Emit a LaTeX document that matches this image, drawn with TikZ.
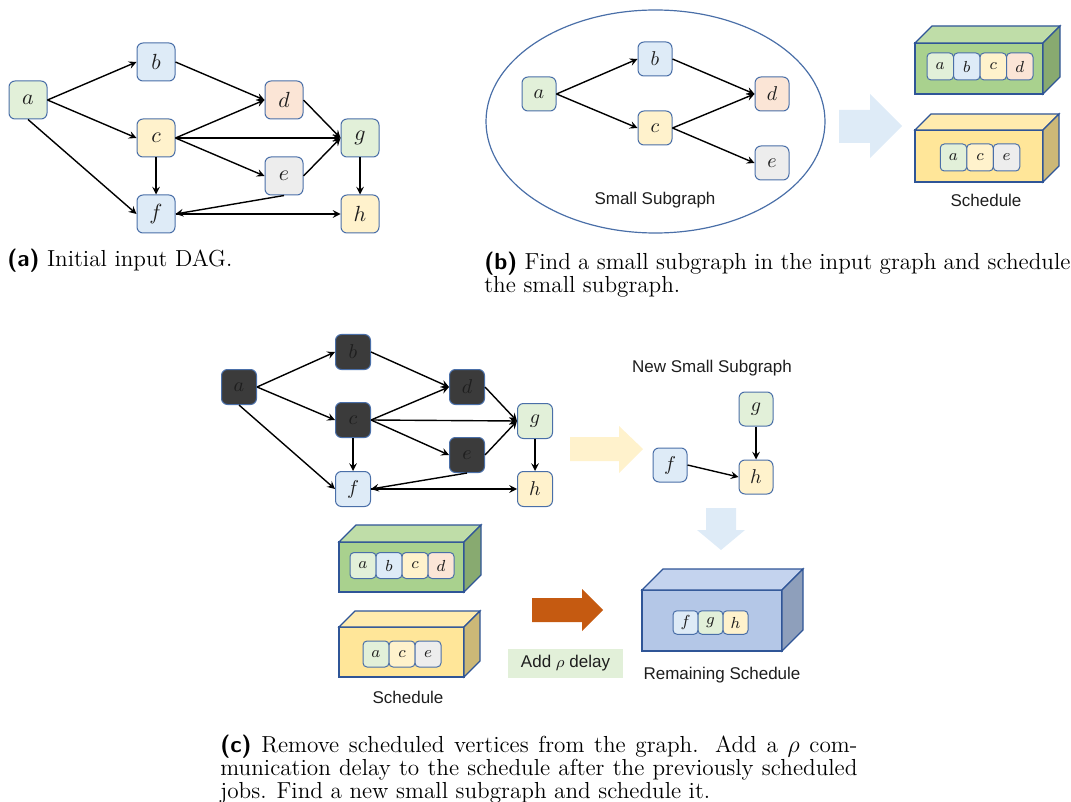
\documentclass[tikz,border=0pt]{standalone}
\usepackage{fontspec}
\newfontfamily\labelfont{Liberation Sans}
\usetikzlibrary{positioning}
\definecolor{vline}{HTML}{4A6FA8}
\definecolor{boxline}{HTML}{2F5597}
\definecolor{vgreen}{HTML}{E2F0D9}
\definecolor{vblue}{HTML}{DEEBF7}
\definecolor{vyellow}{HTML}{FFF2CC}
\definecolor{vred}{HTML}{FBE5D6}
\definecolor{vgray}{HTML}{EDEDED}
\definecolor{vdark}{HTML}{3B3B3B}
\definecolor{gfront}{HTML}{A9D18E}
\definecolor{gtop}{HTML}{BFDDA8}
\definecolor{gside}{HTML}{88AA70}
\definecolor{yfront}{HTML}{FFE699}
\definecolor{ytop}{HTML}{FFEBAE}
\definecolor{yside}{HTML}{CCB877}
\definecolor{bfront}{HTML}{B4C7E7}
\definecolor{btop}{HTML}{C4D3EE}
\definecolor{bside}{HTML}{8E9FBB}
\definecolor{arrblue}{HTML}{DEEBF7}
\definecolor{arryellow}{HTML}{FFF2CC}
\definecolor{arrorange}{HTML}{C55A11}
\definecolor{txt}{HTML}{1E1E1E}
\tikzset{
  vtx/.style={draw=vline, line width=0.5pt, rounded corners=3pt, minimum size=17.5pt, inner sep=0pt, text=txt, font=\fontsize{10}{11}\selectfont},
  cell/.style={draw=vline, line width=0.5pt, rounded corners=2pt, minimum width=13pt, minimum height=13pt, inner sep=0pt, text=txt, font=\fontsize{8.5}{9}\selectfont},
  edge/.style={->, line width=0.7pt},
  lbl/.style={text=txt, font=\labelfont\fontsize{8.5}{10}\selectfont},
  captext/.style={inner sep=0pt, font=\fontsize{11.6}{11.5}\selectfont},
}
% front face at (#1,#2), size #3 x #4, depth #5; fills #6 front, #7 top, #8 side
\newcommand{\cuboid}[8]{%
  \filldraw[draw=boxline, line width=0.6pt, fill=#6] (#1,#2) rectangle ++(#3,#4);
  \filldraw[draw=boxline, line width=0.6pt, fill=#7] (#1,#2) -- ++(#5,-#5) -- ++(#3,0) -- ++(-#5,#5) -- cycle;
  \filldraw[draw=boxline, line width=0.6pt, fill=#8] (#1+#3,#2) -- ++(#5,-#5) -- ++(0,#4) -- ++(-#5,#5) -- cycle;
}
\begin{document}
\begin{tikzpicture}[x=0.5pt,y=-0.5pt,>=stealth]
  \useasboundingbox (0,0) rectangle (1071,802);
  %\draw[gray!30] (0,0) grid[step=50] (1071,802);

  % (a) input DAG
  \foreach \n/\x/\y/\c in {a/28/100/vgreen, b/156/62/vblue, c/156/138/vyellow, d/284/100/vred,
      e/284/176/vgray, f/156/214/vblue, g/360/138/vgreen, h/360/214/vyellow}
    \node[vtx, minimum size=19pt, font=\fontsize{11}{12}\selectfont, fill=\c] (A\n) at (\x,\y) {$\n$};
  \foreach \s/\t in {a.east/b.west, a.east/c.west, a.south/f.west, b.east/d.west, c.east/d.west,
      c.east/g.west, c.east/e.west, c.south/f.north, d.east/g.west, e.east/g.west, e.south/f.east,
      f.east/h.west, g.south/h.north}
    \draw[edge] (A\s) -- (A\t);
  \node[captext, anchor=base west] (capa) at (7,267) {\textsf{\textbf{(a)}} Initial input DAG.};

  % (b) small subgraph and its schedule
  \draw[vline, line width=0.6pt] (655.5,121.5) ellipse [x radius=169.5, y radius=111.5];
  \foreach \n/\x/\y/\c in {a/539/94/vgreen, b/655/59/vblue, c/655/128/vyellow, d/772/94/vred, e/772/163/vgray}
    \node[vtx, minimum size=17pt, fill=\c] (B\n) at (\x,\y) {$\n$};
  \foreach \s/\t in {a.east/b.west, a.east/c.west, b.east/d.west, c.east/d.west, c.east/e.west}
    \draw[edge] (B\s) -- (B\t);
  \node[lbl] (Bsub) at (655,200) {Small Subgraph};
  \fill[arrblue] (839,110) -- (870,110) -- (870,94) -- (902,126) -- (870,158) -- (870,143) -- (839,143) -- cycle;
  \cuboid{915}{43}{128}{51}{17}{gfront}{gtop}{gside}
  \cuboid{915}{130}{128}{52}{16}{yfront}{ytop}{yside}
  \foreach \n/\c [count=\i] in {a/vgreen, b/vblue, c/vyellow, d/vred}
    \node[cell, minimum width=13.25pt, minimum height=13.5pt, fill=\c] (B1\n) at ({913.75+\i*26.5},66.5) {$\n$};
  \foreach \n/\c [count=\i] in {a/vgreen, c/vyellow, e/vgray}
    \node[cell, minimum width=13.25pt, minimum height=13.5pt, fill=\c] (B2\n) at ({927+\i*26.5},157.5) {$\n$};
  \node[lbl] (Bsched) at (986,200) {Schedule};
  \node[captext, anchor=north west, text width=293pt, align=justify] (capb) at (484,252)
    {\textsf{\textbf{(b)}} Find a small subgraph in the input graph and schedule\linebreak the small subgraph.};

  % (c) remove scheduled vertices, add delay, schedule the rest
  \foreach \n/\x/\y/\c in {a/239/387/vdark, b/353/352/vdark, c/353/420/vdark, d/467/387/vdark,
      e/467/455/vdark, f/353/489/vblue, g/535/421/vgreen, h/535/489/vyellow}
    \node[vtx, fill=\c] (C\n) at (\x,\y) {$\n$};
  \foreach \s/\t in {a.east/b.west, a.east/c.west, a.south/f.west, b.east/d.west, c.east/d.west,
      c.east/g.west, c.east/e.west, c.south/f.north, d.east/g.west, e.east/g.west, e.south/f.east,
      f.east/h.west, g.south/h.north}
    \draw[edge] (C\s) -- (C\t);
  \fill[arryellow] (570,437) -- (619,437) -- (619,426) -- (643,449) -- (619,473) -- (619,461) -- (570,461) -- cycle;
  \node[lbl] (Cnew) at (712,368) {New Small Subgraph};
  \foreach \n/\x/\y/\c in {g/756/409/vgreen, f/670/465/vblue, h/756/477/vyellow}
    \node[vtx, minimum size=17pt, fill=\c] (N\n) at (\x,\y) {$\n$};
  \draw[edge] (Nf.east) -- (Nh.west);
  \draw[edge] (Ng.south) -- (Nh.north);
  \fill[arrblue] (706,508) -- (736,508) -- (736,530) -- (745,530) -- (721,550) -- (697,530) -- (706,530) -- cycle;

  \cuboid{339}{542}{125}{50}{17}{gfront}{gtop}{gside}
  \cuboid{339}{627}{125}{50}{16}{yfront}{ytop}{yside}
  \foreach \n/\c [count=\i] in {a/vgreen, b/vblue, c/vyellow, d/vred}
    \node[cell, fill=\c] (C1\n) at ({337+\i*26},565.5) {$\n$};
  \foreach \n/\c [count=\i] in {a/vgreen, c/vyellow, e/vgray}
    \node[cell, fill=\c] (C2\n) at ({350+\i*26},654) {$\n$};
  \node[lbl] (Csched) at (408,697) {Schedule};

  \fill[arrorange] (532,598) -- (582,598) -- (582,589) -- (603,610) -- (582,631) -- (582,622) -- (532,622) -- cycle;
  \node[lbl, fill=vgreen, minimum width=57.5pt, minimum height=14.5pt, inner sep=0pt] (delay) at (565.5,663.5) {Add $\rho$ delay};

  \cuboid{642}{590}{140}{61}{21}{bfront}{btop}{bside}
  \foreach \n/\c [count=\i] in {f/vblue, g/vgreen, h/vyellow}
    \node[cell, minimum width=12.5pt, minimum height=11.75pt, fill=\c] (R\n) at ({660.5+\i*25},622.5) {$\n$};
  \node[lbl] (Crem) at (722,675) {Remaining Schedule};

  \node[captext, anchor=north west, text width=318.5pt, align=justify] (capc) at (220,735)
    {\textsf{\textbf{(c)}} Remove scheduled vertices from the graph. Add a $\rho$ com-\linebreak munication delay to the schedule after the previously scheduled\linebreak jobs. Find a new small subgraph and schedule it.};
\end{tikzpicture}
\end{document}
